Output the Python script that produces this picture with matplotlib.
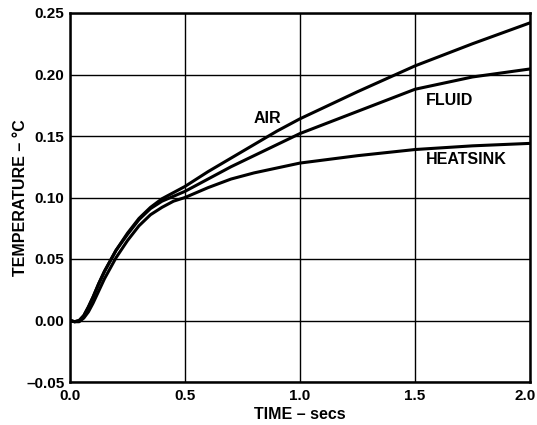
import matplotlib
matplotlib.use("Agg")
import matplotlib.pyplot as plt
from matplotlib.transforms import ScaledTranslation

plt.rcParams['font.family'] = ['Liberation Sans', 'DejaVu Sans']
plt.rcParams['font.weight'] = 'bold'

# values
t_air = [0, 0.02, 0.04, 0.06, 0.08, 0.1, 0.125, 0.15, 0.2, 0.25, 0.3, 0.35, 0.4,
         0.5, 0.6, 0.7, 0.8, 0.9, 1.0, 1.25, 1.5, 1.75, 2.0]
air = [0, -0.001, 0.0, 0.004, 0.011, 0.019, 0.030, 0.040, 0.057, 0.071, 0.083, 0.092, 0.099,
       0.109, 0.121, 0.132, 0.143, 0.154, 0.164, 0.186, 0.207, 0.225, 0.242]

t_fluid = [0, 0.02, 0.04, 0.06, 0.08, 0.1, 0.125, 0.15, 0.2, 0.25, 0.3, 0.35, 0.4,
           0.5, 0.6, 0.7, 0.8, 0.9, 1.0, 1.25, 1.5, 1.75, 2.0]
fluid = [0, -0.001, 0.0, 0.004, 0.011, 0.019, 0.030, 0.040, 0.057, 0.070, 0.082, 0.091, 0.097,
         0.105, 0.115, 0.125, 0.134, 0.143, 0.152, 0.170, 0.188, 0.198, 0.2045]

t_heat = [0, 0.02, 0.04, 0.06, 0.08, 0.1, 0.125, 0.15, 0.2, 0.25, 0.3, 0.35, 0.4,
          0.45, 0.5, 0.6, 0.7, 0.8, 0.9, 1.0, 1.25, 1.5, 1.75, 2.0]
heatsink = [0, -0.001, -0.001, 0.002, 0.007, 0.014, 0.024, 0.034, 0.051, 0.065, 0.077, 0.086, 0.092,
            0.097, 0.100, 0.108, 0.115, 0.120, 0.124, 0.128, 0.134, 0.139, 0.142, 0.144]

fig = plt.figure(figsize=(5.37, 4.25), dpi=100)
ax = fig.add_axes([70/537, 1 - 382/425, 460/537, 369/425])

ax.plot(t_air, air, color='black', lw=2.2)
ax.plot(t_fluid, fluid, color='black', lw=2.2)
ax.plot(t_heat, heatsink, color='black', lw=2.2)

ax.text(0.86, 0.164, 'AIR', ha='center', va='center', fontsize=11.5, fontweight='bold')
ax.text(1.548, 0.179, 'FLUID', ha='left', va='center', fontsize=11.5, fontweight='bold')
ax.text(1.548, 0.131, 'HEATSINK', ha='left', va='center', fontsize=11.5, fontweight='bold')

ax.set_xlim(0, 2.0)
ax.set_ylim(-0.05, 0.25)
xt = [0.0, 0.5, 1.0, 1.5, 2.0]
yt = [-0.05, 0.0, 0.05, 0.10, 0.15, 0.20, 0.25]
ax.set_xticks(xt)
ax.set_xticklabels(['%.1f' % v for v in xt])
ax.set_yticks(yt)
ax.set_yticklabels([('%.2f' % v).replace('-', '\u2013') for v in yt])
ax.tick_params(axis='x', length=0, labelsize=11, pad=5)
ax.tick_params(axis='y', length=0, labelsize=11, pad=4)
for lab in ax.get_xticklabels() + ax.get_yticklabels():
    lab.set_fontweight('bold')
# last x label sits a bit left so it stays inside the figure
last = ax.get_xticklabels()[-1]
last.set_transform(last.get_transform() + ScaledTranslation(-5/100, 0, fig.dpi_scale_trans))

ax.grid(True, color='black', lw=1.0)
ax.set_axisbelow(True)
for s in ax.spines.values():
    s.set_linewidth(1.8)

ax.set_xlabel('TIME \u2013 secs', fontsize=11.5, fontweight='bold', labelpad=3)
ax.set_ylabel('TEMPERATURE \u2013 \u00b0C', fontsize=11.5, fontweight='bold', labelpad=-1)

fig.savefig('out.png', dpi=100)
